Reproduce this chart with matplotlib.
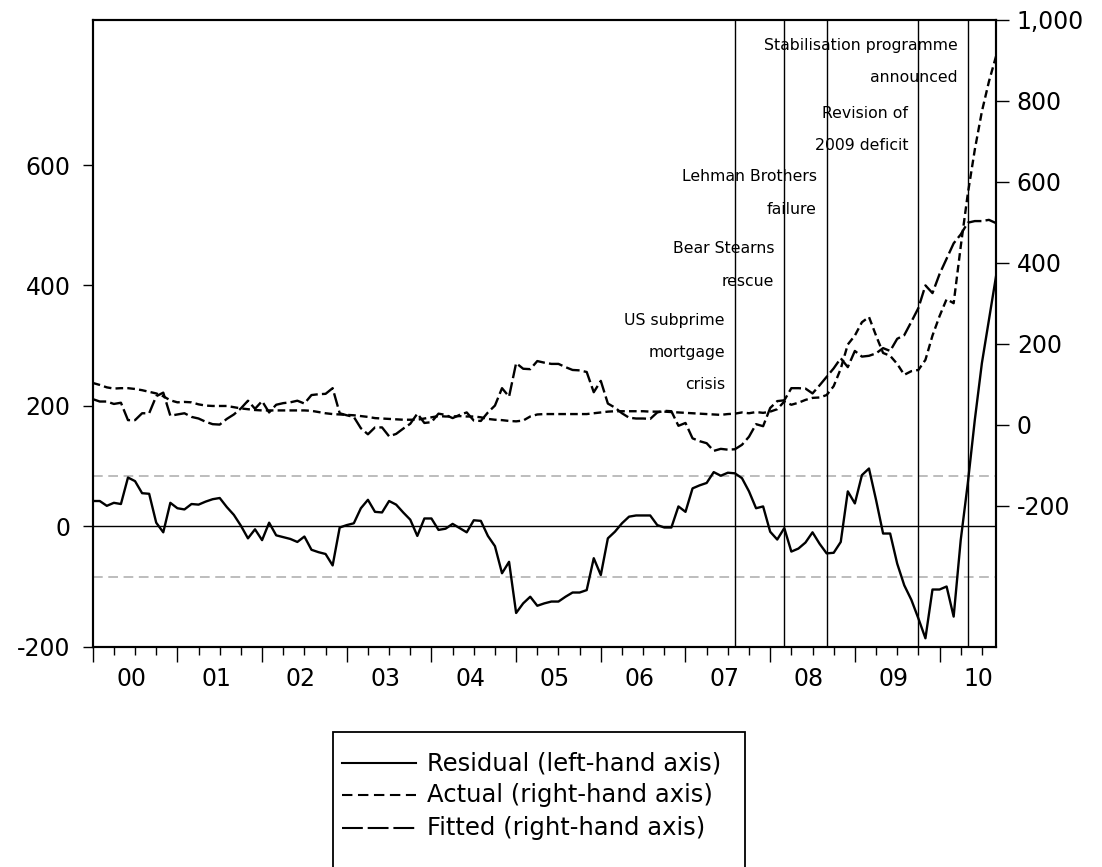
import numpy as np
import matplotlib
matplotlib.use("Agg")
import matplotlib.pyplot as plt
import matplotlib.transforms as mtransforms
from matplotlib.lines import Line2D
from matplotlib.patches import Rectangle

plt.rcParams['font.family'] = ['DejaVu Sans']
plt.rcParams['lines.scale_dashes'] = False

# ---------------- data (monthly, Jan 2000 - Sep 2010) ----------------
start_year = 2000

residual = [
    42, 42, 34, 39, 37, 81, 75, 55, 54, 6,
    -10, 39, 30, 28, 37, 36, 41, 45, 47, 32,
    19, 1, -20, -5, -23, 6, -15, -18, -21, -26,
    -17, -39, -43, -46, -65, -2, 2, 5, 30, 44,
    24, 23, 42, 36, 23, 11, -16, 13, 13, -6,
    -4, 4, -3, -10, 10, 9, -16, -33, -78, -59,
    -144, -128, -117, -132, -128, -125, -125, -117, -110, -110,
    -106, -53, -81, -20, -9, 5, 16, 18, 18, 18,
    2, -2, -2, 33, 24, 63, 68, 72, 90, 84,
    89, 88, 80, 58, 30, 33, -9, -22, -3, -42,
    -37, -27, -10, -29, -45, -44, -26, 58, 38, 85,
    96, 44, -12, -12, -62, -98, -122, -153, -186, -105,
    -105, -100, -150, -23, 71, 177, 271, 343, 415,
]

actual = [
    103, 98, 92, 89, 90, 90, 88, 85, 81, 77,
    70, 60, 55, 56, 55, 50, 47, 46, 46, 46,
    43, 40, 38, 36, 35, 35, 35, 35, 35, 35,
    35, 34, 31, 28, 26, 25, 24, 23, 21, 19,
    16, 15, 14, 13, 12, 12, 12, 15, 18, 21,
    20, 20, 21, 20, 20, 18, 14, 12, 11, 9,
    8, 10, 20, 25, 26, 26, 26, 26, 26, 26,
    26, 28, 30, 32, 33, 33, 33, 33, 33, 32,
    32, 32, 31, 30, 29, 28, 27, 26, 25, 24,
    26, 27, 30, 28, 31, 29, 32, 38, 57, 49,
    54, 61, 66, 67, 73, 95, 138, 198, 220, 253,
    266, 220, 177, 170, 150, 123, 132, 135, 160, 220,
    268, 310, 300, 440, 570, 680, 774, 848, 910,
]

fitted = [
    63, 57, 57, 51, 54, 11, 11, 28, 28, 70,
    79, 22, 25, 28, 19, 15, 7, 1, 0, 14,
    25, 40, 59, 39, 58, 30, 49, 53, 55, 59,
    52, 73, 75, 76, 90, 28, 23, 19, -9, -24,
    -7, -7, -29, -23, -10, 2, 27, 4, 6, 27,
    24, 16, 24, 30, 10, 9, 30, 47, 90, 69,
    152, 138, 137, 157, 153, 150, 150, 142, 135, 134,
    130, 80, 108, 52, 42, 28, 17, 15, 15, 14,
    30, 34, 33, -3, 4, -34, -41, -46, -65, -60,
    -62, -61, -50, -30, 1, -4, 41, 58, 60, 90,
    90, 89, 77, 97, 118, 139, 164, 142, 182, 168,
    170, 176, 189, 182, 212, 221, 254, 288, 344, 325,
    372, 410, 448, 470, 499, 503, 503, 506, 498,
]

resid_se = 84  # +/- one standard error band of the residual

# events: (year, month, text lines)
events = [
    (2007, 8, ["US subprime", "mortgage", "crisis"]),
    (2008, 3, ["Bear Stearns", "rescue"]),
    (2008, 9, ["Lehman Brothers", "failure"]),
    (2009, 10, ["Revision of", "2009 deficit"]),
    (2010, 5, ["Stabilisation programme", "announced"]),
]

years = list(range(2000, 2011))
year_labels = ["00", "01", "02", "03", "04", "05", "06", "07", "08", "09", "10"]
left_ticks = [-200, 0, 200, 400, 600]
right_ticks = [-200, 0, 200, 400, 600, 800, 1000]
right_tick_labels = ["-200", "0", "200", "400", "600", "800", "1,000"]

legend_labels = ["Residual (left-hand axis)", "Actual (right-hand axis)",
                 "Fitted (right-hand axis)"]

# ---------------- figure ----------------
W, H = 1102, 867
fig = plt.figure(figsize=(W / 100, H / 100), dpi=100)

ax_l, ax_r, ax_t, ax_b = 92.7, 996.0, 20.0, 646.7
ax = fig.add_axes([ax_l / W, 1 - ax_b / H, (ax_r - ax_l) / W, (ax_b - ax_t) / H])
ax2 = ax.twinx()

n = len(residual)
t = start_year + np.arange(n) / 12.0

ax.set_xlim(t[0], t[-1])
ax.set_ylim(-200, 841)
ax2.set_ylim(-549, 1000)

# reference lines
ax.axhline(0, color='black', lw=1.0, zorder=2)
for s in (resid_se, -resid_se):
    ax.axhline(s, color='#b8b8b8', lw=1.3, dashes=(7, 4), zorder=1)

for (yr, mo, _) in events:
    ax.axvline(yr + (mo - 1) / 12.0, color='black', lw=1.0, zorder=2)

# series
ax.plot(t, residual, color='black', lw=1.7, zorder=3)
ax2.plot(t, actual, color='black', lw=1.7, dashes=(5.5, 3), zorder=3)
ax2.plot(t, fitted, color='black', lw=1.7, dashes=(10, 3), zorder=3)

# spines
for a in (ax, ax2):
    for sp in a.spines.values():
        sp.set_linewidth(1.5)
        sp.set_color('black')

# y ticks
ax.set_yticks(left_ticks)
ax.set_yticklabels([str(v) for v in left_ticks])
ax.tick_params(axis='y', direction='out', length=7, width=1.0, pad=9,
               labelsize=17, colors='black')
ax2.set_yticks(right_ticks)
ax2.set_yticklabels(right_tick_labels)
ax2.tick_params(axis='y', direction='out', length=9, width=1.0, pad=6,
                labelsize=17, colors='black')

# x ticks: years (major), quarters (minor)
ax.set_xticks(years)
ax.set_xticklabels([''] * len(years))
quarters = [y + q / 4.0 for y in range(2000, 2011) for q in (1, 2, 3)]
quarters = [q for q in quarters if q <= t[-1]]
ax.set_xticks(quarters, minor=True)
ax.tick_params(axis='x', which='major', direction='out', length=11, width=1.0)
ax.tick_params(axis='x', which='minor', direction='out', length=6, width=1.0)

xlab_trans = mtransforms.blended_transform_factory(ax.transData, ax.transAxes)
for yr, lab in zip(years, year_labels):
    ax.text(yr + 5.5 / 12.0, -0.0515, lab, transform=xlab_trans,
            ha='center', va='center', fontsize=17, clip_on=False)

# event annotations (right aligned, just left of each line)
first_line_y = [0.5213, 0.6346, 0.7495, 0.8516, 0.9601]
line_step = 0.0511
for (yr, mo, lines), y0 in zip(events, first_line_y):
    base = mtransforms.blended_transform_factory(ax.transData, ax.transAxes)
    tr = mtransforms.offset_copy(base, fig=fig, x=-10, y=0, units='dots')
    for k, txt in enumerate(lines):
        ax.text(yr + (mo - 1) / 12.0, y0 - k * line_step, txt, transform=tr,
                ha='right', va='center', fontsize=11.3, zorder=4)

# legend (drawn as a box below the plot)
box_l, box_r, box_t = 333, 745, 732
fig.add_artist(Rectangle((box_l / W, -0.01), (box_r - box_l) / W,
                         1 - box_t / H + 0.01, transform=fig.transFigure,
                         fill=False, edgecolor='black', lw=1.3, clip_on=False))
row_y = [763, 795, 828]
styles = [dict(), dict(dashes=(7.5, 4)), dict(dashes=(15, 3.5))]
for lab, yy, st in zip(legend_labels, row_y, styles):
    fig.add_artist(Line2D([342 / W, 416 / W], [1 - yy / H, 1 - yy / H],
                          transform=fig.transFigure, color='black', lw=1.5, **st))
    fig.text(427 / W, 1 - yy / H, lab, ha='left', va='center', fontsize=17.5)

fig.savefig("out.png", dpi=100)
